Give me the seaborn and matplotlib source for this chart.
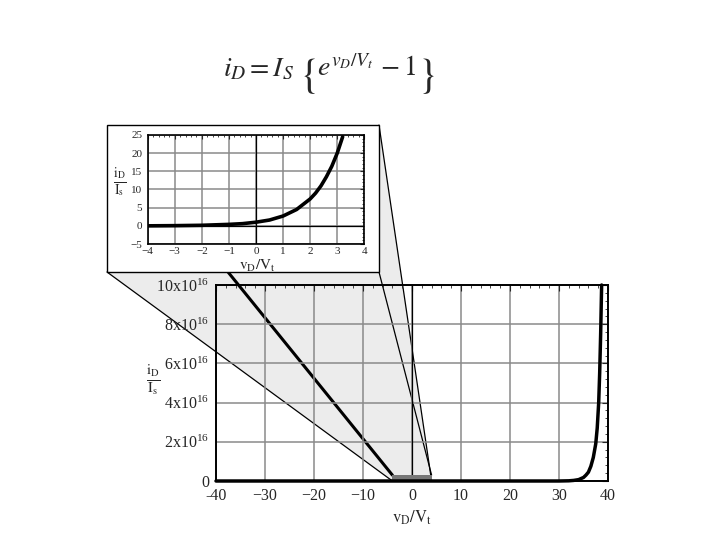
import matplotlib
matplotlib.use('Agg')
import numpy as np
import seaborn as sns
import matplotlib.pyplot as plt
from matplotlib.patches import Polygon, Rectangle
from matplotlib.ticker import MultipleLocator

##DATA:
# big plot, y in units of 1e16
main_x = [-40, 30, 32, 33, 34, 35, 35.5, 36, 36.5, 37, 37.5, 37.8, 38.1, 38.3, 38.5, 38.7]
main_y = [0, 0, 0.01, 0.03, 0.07, 0.18, 0.3, 0.45, 0.75, 1.2, 1.9, 2.7, 4.0, 5.5, 7.5, 10.0]
main_xticks = [-40, -30, -20, -10, 0, 10, 20, 30, 40]
main_xlabels = ['-40', '\u221230', '\u221220', '\u221210', '0', '10', '20', '30', '40']
main_yticks = [0, 2, 4, 6, 8, 10]
main_ylabels = ['0'] + [f'{v}x$\\mathregular{{10^{{16}}}}$' for v in [2, 4, 6, 8, 10]]

# zoomed inset
inset_x = [-4, -3, -2, -1, -0.5, 0, 0.5, 1, 1.5, 2, 2.2, 2.4, 2.6, 2.8, 3.0, 3.2]
inset_y = [0.0, 0.05, 0.15, 0.4, 0.6, 1.0, 1.6, 2.7, 4.5, 7.4, 9.0, 11.0, 13.5, 16.4, 20.0, 24.5]
inset_xticks = [-4, -3, -2, -1, 0, 1, 2, 3, 4]
inset_yticks = [-5, 0, 5, 10, 15, 20, 25]

# zoom window shown on the big plot
zoom_x = [-4, 4]
zoom_top = 0.3

##STYLE:
sns.set_style('white')
plt.rcParams['font.family'] = ['Liberation Serif', 'DejaVu Serif']
plt.rcParams['mathtext.fontset'] = 'stix'
grid_col = '#8a8a8a'

fig = plt.figure(figsize=(7.2, 5.4), dpi=100)

# background layer in pixel coords for the zoom cone
bg = fig.add_axes([0, 0, 1, 1], zorder=0)
bg.set_xlim(0, 720)
bg.set_ylim(540, 0)
bg.axis('off')

##MAIN PLOT:
ax = fig.add_axes([216/720, 59/540, 392/720, 196/540], zorder=1)
ax.set_facecolor('none')
ax.set_xlim(-40, 40)
ax.set_ylim(0, 10)
ax.set_xticks(main_xticks)
ax.set_xticklabels(main_xlabels)
ax.set_yticks(main_yticks)
ax.set_yticklabels(main_ylabels)
ax.xaxis.set_minor_locator(MultipleLocator(2))
ax.yaxis.set_minor_locator(MultipleLocator(0.4))
ax.grid(True, which='major', color=grid_col, lw=1.1)
ax.axvline(0, color='black', lw=0.9, zorder=2)
ax.add_patch(Rectangle((zoom_x[0], 0), zoom_x[1] - zoom_x[0], zoom_top,
                       fc='#777777', ec='none', zorder=3))
sns.lineplot(x=main_x, y=main_y, ax=ax, color='black', lw=2.5, clip_on=False, zorder=4)
ax.tick_params(which='both', direction='in', top=True, right=True, labelsize=11.5, pad=5)
ax.tick_params(which='major', length=4)
ax.tick_params(which='minor', length=2.5)
for s in ax.spines.values():
    s.set_color('black')
    s.set_linewidth(1.4)

fig.text(153/720, 1 - 380/540, r'$\frac{\mathrm{i}_\mathrm{D}}{\mathrm{I}_\mathrm{s}}$',
         ha='center', va='center', fontsize=15)
fig.text(412/720, 1 - 518/540, r'$\mathrm{v}_\mathrm{D}/\mathrm{V}_\mathrm{t}$',
         ha='center', va='center', fontsize=12)

##ZOOM CONE:
def to_px(x, y):
    d = ax.transData.transform((x, y))
    return d[0], 540 - d[1]

box = (107, 125, 379, 272)  # left, top, right, bottom in pixels
r_bl = to_px(zoom_x[0], 0)
r_tl = to_px(zoom_x[0], zoom_top)
r_br = to_px(zoom_x[1], 0)
r_tr = to_px(zoom_x[1], zoom_top)
bg.add_patch(Polygon([(box[0], box[3]), r_bl, r_br, (box[2], box[1])],
                     closed=True, fc='#ececec', ec='none', zorder=1))
bg.plot([box[0], r_bl[0]], [box[3], r_bl[1]], color='black', lw=0.9, zorder=2)
bg.plot([228, r_tl[0]], [box[3], r_tl[1]], color='black', lw=2.2, zorder=2)
bg.plot([box[2], r_br[0]], [box[1], r_br[1]], color='black', lw=0.9, zorder=2)
bg.plot([box[2], r_tr[0]], [box[3], r_tr[1]], color='black', lw=0.9, zorder=2)
bg.add_patch(Rectangle((box[0], box[1]), box[2] - box[0], box[3] - box[1],
                       fc='white', ec='black', lw=1, zorder=3))

##INSET:
ins = fig.add_axes([147.7/720, (540 - 244)/540, 216.6/720, 109/540], zorder=2)
ins.set_facecolor('white')
ins.set_xlim(-4, 4)
ins.set_ylim(-5, 25)
ins.set_xticks(inset_xticks)
ins.set_yticks(inset_yticks)
ins.xaxis.set_minor_locator(MultipleLocator(0.2))
ins.yaxis.set_minor_locator(MultipleLocator(1))
ins.grid(True, which='major', color=grid_col, lw=1.1)
ins.axvline(0, color='black', lw=0.9)
ins.axhline(0, color='black', lw=0.9)
sns.lineplot(x=inset_x, y=inset_y, ax=ins, color='black', lw=2.6, zorder=4)
ins.tick_params(which='both', direction='in', top=True, right=True, labelsize=8)
ins.tick_params(axis='x', pad=2)
ins.tick_params(axis='y', pad=4)
ins.tick_params(which='major', length=3)
ins.tick_params(which='minor', length=1.5)
for s in ins.spines.values():
    s.set_color('black')
    s.set_linewidth(1.2)

fig.text(120/720, 1 - 182/540, r'$\frac{\mathrm{i}_\mathrm{D}}{\mathrm{I}_\mathrm{s}}$',
         ha='center', va='center', fontsize=14)
fig.text(257/720, 1 - 266/540, r'$\mathrm{v}_\mathrm{D}/\mathrm{V}_\mathrm{t}$',
         ha='center', va='center', fontsize=11)

##EQUATION (pieces so the braces can be taller):
base = 1 - 76/540
fig.text(223/720, base, r'$i_D = I_S$', ha='left', va='baseline', fontsize=20)
fig.text(307/720, 1 - 76/540, r'$\{$', ha='center', va='center', fontsize=30)
fig.text(317/720, base, r'$e^{v_D/V_t}\, - 1$', ha='left', va='baseline', fontsize=20)
fig.text(426/720, 1 - 76/540, r'$\}$', ha='center', va='center', fontsize=30)

fig.savefig('out.png', dpi=100)
plt.close()
